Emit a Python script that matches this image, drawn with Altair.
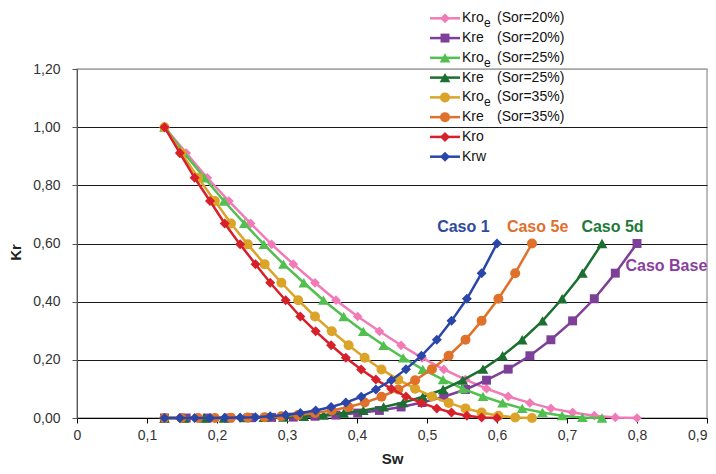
import altair as alt
import pandas as pd

# ---------------- data ----------------
# Sw values of the points of each case
sw_caso_base = [0.125, 0.156, 0.186, 0.217, 0.248, 0.278, 0.309, 0.340, 0.370, 0.401, 0.432, 0.463,
                0.493, 0.524, 0.555, 0.585, 0.616, 0.647, 0.677, 0.708, 0.739, 0.769, 0.800]
sw_caso_5d = [0.125, 0.153, 0.182, 0.210, 0.239, 0.267, 0.295, 0.324, 0.352, 0.381, 0.409, 0.438,
              0.466, 0.494, 0.523, 0.551, 0.580, 0.608, 0.636, 0.665, 0.693, 0.722, 0.750]
sw_caso_5e = [0.125, 0.149, 0.173, 0.197, 0.220, 0.244, 0.268, 0.292, 0.316, 0.340, 0.364, 0.388,
              0.411, 0.435, 0.459, 0.483, 0.507, 0.531, 0.555, 0.578, 0.602, 0.626, 0.650]
sw_caso_1 = [0.125, 0.147, 0.168, 0.190, 0.211, 0.233, 0.255, 0.276, 0.298, 0.319, 0.341, 0.363,
             0.384, 0.406, 0.427, 0.449, 0.470, 0.492, 0.514, 0.535, 0.557, 0.578, 0.600]

# Kr values (same at each point index for every case)
kr_oleo = [1.000, 0.911, 0.826, 0.746, 0.669, 0.597, 0.529, 0.465, 0.405, 0.349, 0.298, 0.250,
           0.207, 0.167, 0.132, 0.101, 0.074, 0.052, 0.033, 0.019, 0.008, 0.002, 0.000]
kr_agua = [0.000, 0.000, 0.000, 0.000, 0.001, 0.002, 0.003, 0.006, 0.010, 0.017, 0.026, 0.038,
           0.053, 0.073, 0.098, 0.130, 0.168, 0.214, 0.269, 0.334, 0.410, 0.498, 0.600]

series_names = ["Kroe (Sor=20%)", "Kre (Sor=20%)", "Kroe (Sor=25%)", "Kre (Sor=25%)",
                "Kroe (Sor=35%)", "Kre (Sor=35%)", "Kro", "Krw"]
series_sw = [sw_caso_base, sw_caso_base, sw_caso_5d, sw_caso_5d,
             sw_caso_5e, sw_caso_5e, sw_caso_1, sw_caso_1]
series_kr = [kr_oleo, kr_agua, kr_oleo, kr_agua, kr_oleo, kr_agua, kr_oleo, kr_agua]
series_colors = ["#f27ab6", "#7e3f98", "#52c04f", "#1b6f30",
                 "#dba328", "#e0712b", "#d6202a", "#2a46a8"]
series_shapes = ["diamond", "square", "triangle-up", "triangle-up",
                 "circle", "circle", "diamond", "diamond"]
series_sizes = [95, 80, 115, 115, 100, 100, 100, 100]

legend_main = ["Kro", "Kre", "Kro", "Kre", "Kro", "Kre", "Kro", "Krw"]
legend_sub = ["e", "", "e", "", "e", "", "", ""]
legend_sor = ["(Sor=20%)", "(Sor=20%)", "(Sor=25%)", "(Sor=25%)",
              "(Sor=35%)", "(Sor=35%)", "", ""]

caso_labels = ["Caso 1", "Caso 5e", "Caso 5d", "Caso Base"]
caso_sw = [0.552, 0.658, 0.765, 0.842]
caso_kr = [0.658, 0.658, 0.658, 0.523]
caso_colors = ["#2e4a9e", "#e0702c", "#1f7a3a", "#8a3fa0"]

x_ticks = [0, 0.1, 0.2, 0.3, 0.4, 0.5, 0.6, 0.7, 0.8, 0.9]
y_ticks = [0, 0.2, 0.4, 0.6, 0.8, 1.0, 1.2]

FONT = "Liberation Sans"

# ---------------- scales / axes ----------------
x_axis = alt.Axis(
    values=x_ticks,
    labelExpr="datum.value == 0 ? '0' : replace(format(datum.value, '.1f'), '.', ',')",
    labelAlign=alt.condition("datum.value > 0.85", alt.value("right"), alt.value("center")),
    grid=False, domainColor="#000000", tickColor="#000000", tickSize=5,
    labelFontSize=14, labelColor="#333333", labelPadding=5,
    labelFlush=False, labelOverlap=False, labelBound=False,
    title="Sw", titleFontSize=15, titleFontWeight="bold", titleColor="#222222",
    titleY=48, titleBaseline="bottom",
)
y_axis = alt.Axis(
    values=y_ticks,
    labelExpr="replace(format(datum.value, '.2f'), '.', ',')",
    grid=True, gridWidth=1,
    gridColor=alt.condition("datum.value > 1.19", alt.value("#a6a6a6"), alt.value("#1a1a1a")),
    domainColor="#555555", tickColor="#555555", tickSize=5,
    labelFontSize=14, labelColor="#333333", labelPadding=12, labelOverlap=False,
    title="Kr", titleFontSize=15, titleFontWeight="bold", titleColor="#222222",
    titleX=-62, titleY=183, titleBaseline="middle", titleAngle=-90,
)
X = alt.X("sw:Q", scale=alt.Scale(domain=[0, 0.9], nice=False, zero=False), axis=x_axis)
Y = alt.Y("kr:Q", scale=alt.Scale(domain=[0, 1.2], nice=False), axis=y_axis)

layers = []
for name, sw, kr, col, shp, sz in zip(series_names, series_sw, series_kr,
                                       series_colors, series_shapes, series_sizes):
    df = pd.DataFrame({"sw": sw, "kr": kr, "serie": name})
    base = alt.Chart(df)
    layers.append(base.mark_line(color=col, strokeWidth=2.5).encode(x=X, y=Y))
    layers.append(base.mark_point(color=col, shape=shp, size=sz, filled=True, opacity=1)
                  .encode(x=X, y=Y))

# annotations
ann = pd.DataFrame({"sw": caso_sw, "kr": caso_kr, "label": caso_labels, "color": caso_colors})
layers.append(
    alt.Chart(ann).mark_text(font=FONT, fontSize=16, fontWeight="bold", align="center",
                             baseline="middle")
    .encode(x=X, y=Y, text="label:N", color=alt.Color("color:N", scale=None))
)

# legend (line segment + marker + text for each series)
ROW0, ROWSTEP = -50.7, 19.77
leg = pd.DataFrame({
    "row": list(range(len(series_names))),
    "color": series_colors, "shape": series_shapes, "size": series_sizes,
    "main": legend_main, "sub": legend_sub, "sor": legend_sor,
})
leg["py"] = ROW0 + ROWSTEP * leg["row"]
LY = alt.Y("py:Q", scale=None, axis=None)
lbase = alt.Chart(leg)
layers.append(lbase.mark_rule(strokeWidth=2.5).encode(
    x=alt.value(353), x2=alt.value(383), y=LY, color=alt.Color("color:N", scale=None)))
layers.append(lbase.mark_point(filled=True, opacity=1).encode(
    x=alt.value(368), y=LY, color=alt.Color("color:N", scale=None),
    shape=alt.Shape("shape:N", scale=None), size=alt.Size("size:Q", scale=None)))
layers.append(lbase.mark_text(font=FONT, fontSize=14, align="left", baseline="middle",
                              color="#111111").encode(x=alt.value(385), y=LY, text="main:N"))
layers.append(lbase.mark_text(font=FONT, fontSize=12, align="left", baseline="middle", dy=5,
                              color="#111111").encode(x=alt.value(407), y=LY, text="sub:N"))
layers.append(lbase.mark_text(font=FONT, fontSize=14, align="left", baseline="middle",
                              color="#111111").encode(x=alt.value(420), y=LY, text="sor:N"))

chart = (
    alt.layer(*layers)
    .properties(width=630, height=349,
                padding={"left": 69, "top": 61, "right": 1, "bottom": 50},
                autosize=alt.AutoSizeParams(type="none"))
    .configure(font=FONT)
    .configure_axis(labelFont=FONT, titleFont=FONT)
    .configure_view(stroke="#a6a6a6", strokeWidth=1.5)
)

chart.save("out.html", embed_options={"renderer": "svg", "actions": False})
